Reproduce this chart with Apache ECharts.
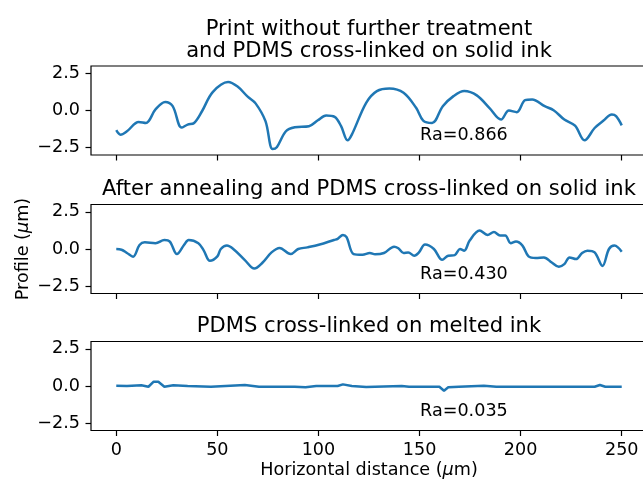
<!DOCTYPE html>
<html>
<head>
<meta charset="utf-8">
<script src="https://cdn.jsdelivr.net/npm/echarts@6/dist/echarts.min.js"></script>
<style>html,body{margin:0;padding:0;background:#fff}#c{width:643px;height:481px}</style>
</head>
<body>
<div id="c"></div>
<script>
const xs1 = [0,2.1,5.3,11.1,14.7,19.4,24.2,27.9,32.3,35.3,38.5,42.4,47.7,55.3,60.0,65.0,68.9,73.8,77.3,79.4,83.9,88.3,95.3,99.7,103.8,108.0,111.2,114.4,116.5,123.6,128.9,135.1,142.1,148.3,151.8,156.2,161.5,166.8,172.1,178.3,184.5,190.3,194.2,198.1,202.2,205.7,211.9,216.3,221.6,226.9,231.6,236.6,241.0,245.1,247.2,250];
const ys1 = [-1.33,-1.63,-1.40,-0.77,-0.84,0.07,0.57,0.29,-1.15,-0.95,-0.84,-0.05,1.24,1.92,1.61,0.93,0.48,-0.72,-2.60,-2.47,-1.40,-1.13,-1.06,-0.66,-0.34,-0.43,-1.06,-2.01,-1.63,0.52,1.31,1.49,1.20,0.18,-0.68,-0.84,0.29,0.97,1.31,1.02,0.18,-0.61,0.00,-0.11,0.70,0.75,0.29,0.02,-0.61,-1.02,-2.01,-1.18,-0.68,-0.27,-0.38,-1.00];
const xs2 = [0,2.6,5.3,8.3,11.5,14.1,19.4,23.8,26.5,30.0,33.5,35.8,40.6,43.3,46.3,50.0,51.7,54.7,58.3,63.6,68.3,72.4,76.8,80.8,86.2,90.0,94.5,100.6,107.7,109.5,112.1,113.9,117.4,121.8,125.4,128.0,132.4,137.4,139.5,142.1,144.4,147.4,149.7,152.7,157.1,161.2,164.2,167.4,170.0,172.1,174.8,179.7,183.6,186.8,189.8,192.4,195.1,197.7,200.9,203.9,207.5,211.5,215.4,218.9,221.6,224.2,227.4,230.4,233.0,236.6,240.5,243.7,246.4,248.1,250];
const ys2 = [0,-0.05,-0.27,-0.52,0.27,0.45,0.39,0.61,0.50,-0.34,0.27,0.61,0.39,-0.11,-0.80,-0.50,0,0.23,-0.05,-0.75,-1.32,-0.91,-0.23,0.07,-0.34,0.0,0.11,0.30,0.61,0.68,0.95,0.80,-0.34,-0.39,-0.27,-0.36,-0.27,0.16,0.05,-0.27,-0.23,-0.45,-0.23,0.30,0,-0.73,-0.45,-0.41,0,-0.11,0.57,1.25,0.95,1.14,0.91,0.91,0.39,0.50,0.23,-0.50,-0.61,-0.57,-0.91,-1.20,-1.02,-0.57,-0.68,-0.27,-0.11,-0.23,-1.14,0,0.23,0.11,-0.18];
const xs3 = [0,5.3,12.4,15.9,18.5,20.8,23.8,28.2,35.3,46.8,63.6,70.6,88.3,93.6,98.9,109.5,112.1,116.5,123.6,141.2,144.8,159.8,162.1,164.2,169.5,181.8,188.0,203.0,236.6,239.2,241.9,250];
const ys3 = [0.02,0,0.05,-0.05,0.29,0.29,-0.05,0.05,0,-0.05,0.07,-0.05,-0.05,-0.09,0,0,0.11,0,-0.07,0,-0.05,-0.05,-0.32,-0.09,-0.05,0.02,-0.05,-0.05,-0.05,0.07,-0.05,-0.05];
const xTicks = [0,50,100,150,200,250];
const yTicks = [-2.5,0,2.5];
const titles = ['Print without further treatment\nand PDMS cross-linked on solid ink','After annealing and PDMS cross-linked on solid ink','PDMS cross-linked on melted ink'];
const raLabels = ['Ra=0.866','Ra=0.430','Ra=0.035'];
const raPos = [150,-2];

const FONT = 'DejaVu Sans';
const FS = 17.6, TFS = 21.1;
const tops = [66,204.5,341.5];
const gridH = 89, gridL = 91, gridW = 556;
const xsAll=[xs1,xs2,xs3], ysAll=[ys1,ys2,ys3];
const rich = {a:{fontFamily:FONT,fontSize:FS,color:'#000'},b:{fontFamily:FONT,fontSize:FS,fontStyle:'italic',color:'#000'}};

const option = {
  animation:false,
  backgroundColor:'#fff',
  textStyle:{fontFamily:FONT},
  title: titles.map((t,i)=>({
    text:t, left:gridL+gridW/2, top: i===0 ? 18 : tops[i]-26, textAlign:'center', padding:0,
    textStyle:{fontFamily:FONT,fontSize:TFS,fontWeight:'normal',color:'#000',lineHeight:22.3}
  })),
  grid: tops.map(t=>({left:gridL,top:t,width:gridW,height:gridH,show:true,borderColor:'#000',borderWidth:1.2,
    backgroundColor:'transparent',outerBoundsMode:'none',containLabel:false})),
  xAxis: tops.map((t,i)=>({
    type:'value',gridIndex:i,min:-12.5,max:262.5,position:'bottom',
    axisLine:{show:false,onZero:false},splitLine:{show:false},
    axisTick:{show:true,inside:false,length:5.5,customValues:xTicks,lineStyle:{color:'#000',width:1.2}},
    axisLabel:{show:i===2,customValues:xTicks,margin:11,color:'#000',fontFamily:FONT,fontSize:FS},
    name: i===2 ? '{a|Horizontal distance (}{b|μ}{a|m)}' : '',
    nameLocation:'middle',nameGap:31,nameMoveOverlap:false,
    nameTextStyle:{rich:rich}
  })),
  yAxis: tops.map((t,i)=>({
    type:'value',gridIndex:i,min:-3,max:3,position:'left',
    axisLine:{show:false,onZero:false},splitLine:{show:false},
    axisTick:{show:true,inside:false,length:5.5,customValues:yTicks,lineStyle:{color:'#000',width:1.2}},
    axisLabel:{customValues:yTicks,margin:11,color:'#000',fontFamily:FONT,fontSize:FS,
      formatter:v=>v.toFixed(1).replace('-','\u2212')},
    name: i===1 ? '{a|Profile (}{b|μ}{a|m)}' : '',
    nameLocation:'middle',nameGap:59,nameRotate:90,nameMoveOverlap:false,
    nameTextStyle:{rich:rich}
  })),
  series: [0,1,2].map(i=>({
    type:'line',xAxisIndex:i,yAxisIndex:i,
    data: xsAll[i].map((x,k)=>[x,ysAll[i][k]]),
    showSymbol:false,smooth:i<2?0.35:false,
    lineStyle:{color:'#1f77b4',width:2.5},
    itemStyle:{color:'#1f77b4'},
    markPoint:{
      symbol:'circle',symbolSize:1,itemStyle:{color:'transparent'},
      data:[{coord:raPos,value:raLabels[i]}],
      label:{show:true,formatter:raLabels[i],position:[0,0],align:'left',verticalAlign:'bottom',offset:[1,5],
        color:'#000',fontFamily:FONT,fontSize:FS}
    }
  }))
};
const chart = echarts.init(document.getElementById('c'),null,{renderer:'canvas'});
chart.setOption(option);
</script>
</body>
</html>
